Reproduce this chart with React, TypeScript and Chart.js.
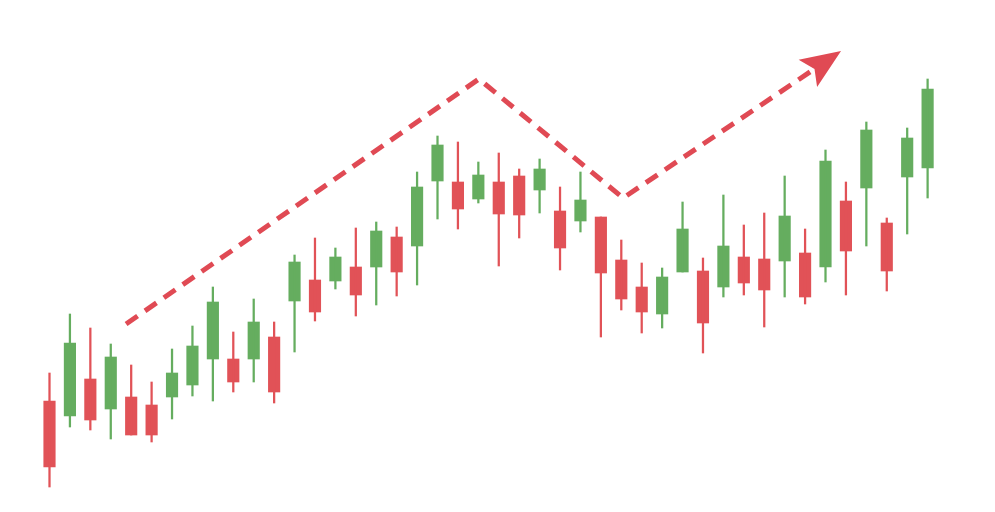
import React, { useEffect, useRef } from "react";
import { Chart, registerables } from "chart.js";

Chart.register(...registerables);

// OHLC values for 44 sessions (price units)
const opens = [22.2, 19.2, 26.6, 20.6, 23.0, 21.4, 23.0, 25.4, 30.6, 30.6, 30.6, 35.0, 42.2, 46.4, 46.2, 49.0, 49.0, 55.0, 53.2, 66.2, 66.0, 62.6, 66.0, 67.2, 64.4, 60.2, 58.2, 59.0, 50.4, 45.0, 39.6, 48.0, 48.2, 45.0, 51.0, 50.6, 50.2, 51.8, 49.0, 62.2, 64.8, 57.8, 67.0, 68.8];
const highs = [27.8, 39.6, 36.8, 33.6, 29.4, 26.0, 32.6, 37.2, 45.0, 36.0, 42.6, 38.0, 51.4, 54.8, 52.8, 56.8, 58.0, 57.0, 68.0, 75.2, 74.0, 70.0, 71.8, 68.6, 70.6, 65.0, 68.0, 59.0, 54.4, 49.8, 48.8, 62.0, 50.8, 63.4, 57.4, 59.8, 67.2, 56.6, 72.4, 66.0, 78.0, 58.8, 76.8, 86.6];
const lows = [5.0, 17.0, 16.4, 14.6, 15.4, 14.0, 18.6, 23.2, 22.2, 24.0, 26.0, 21.8, 32.0, 38.2, 44.6, 39.2, 41.4, 43.2, 45.4, 58.6, 56.6, 61.8, 49.2, 54.8, 59.8, 48.4, 56.0, 35.0, 40.4, 35.8, 36.8, 48.0, 31.8, 43.0, 43.4, 37.0, 43.0, 41.6, 46.0, 43.4, 53.2, 44.2, 55.6, 62.8];
const closes = [9.0, 33.8, 18.4, 31.0, 15.4, 15.4, 27.8, 33.2, 42.0, 26.0, 38.0, 24.0, 50.0, 40.0, 51.0, 43.4, 56.2, 48.0, 65.0, 73.4, 60.6, 67.4, 59.6, 59.4, 68.6, 52.8, 62.4, 47.8, 42.6, 40.0, 47.0, 56.6, 37.8, 53.2, 45.8, 44.4, 59.2, 43.0, 70.2, 52.2, 76.4, 48.2, 74.8, 84.6];

// Dashed trend path (session index, price); last point is the arrow tip
const trendX = [3.75, 21.03, 28.09, 38.76];
const trendY = [37.6, 86.6, 62.8, 92.2];

const UP = "#65ad5f";
const DOWN = "#e15257";
const TREND = "#e04a54";

const trendPlugin = {
  id: "trendArrow",
  afterDatasetsDraw(chart: any) {
    const { ctx, scales } = chart;
    const pts = trendX.map((x, i) => ({
      x: scales.x.getPixelForValue(x),
      y: scales.y.getPixelForValue(trendY[i]),
    }));
    const n = pts.length;
    const tip = pts[n - 1];
    const prev = pts[n - 2];
    const dx = tip.x - prev.x;
    const dy = tip.y - prev.y;
    const len = Math.hypot(dx, dy);
    const ux = dx / len;
    const uy = dy / len;
    const nx = -uy;
    const ny = ux;
    const headLen = 40;
    const halfW = 16.5;
    const notch = 32;
    const notchPt = { x: tip.x - ux * notch, y: tip.y - uy * notch };

    ctx.save();
    ctx.strokeStyle = TREND;
    ctx.lineWidth = 5;
    ctx.lineCap = "butt";
    ctx.lineJoin = "miter";
    ctx.setLineDash([14, 9]);
    ctx.beginPath();
    ctx.moveTo(pts[0].x, pts[0].y);
    for (let i = 1; i < n - 1; i++) ctx.lineTo(pts[i].x, pts[i].y);
    ctx.lineTo(notchPt.x + ux * 2, notchPt.y + uy * 2);
    ctx.stroke();
    ctx.setLineDash([]);

    ctx.fillStyle = TREND;
    ctx.beginPath();
    ctx.moveTo(tip.x, tip.y);
    ctx.lineTo(tip.x - ux * headLen + nx * halfW, tip.y - uy * headLen + ny * halfW);
    ctx.lineTo(notchPt.x, notchPt.y);
    ctx.lineTo(tip.x - ux * headLen - nx * halfW, tip.y - uy * headLen - ny * halfW);
    ctx.closePath();
    ctx.fill();
    ctx.restore();
  },
};

export default function App() {
  const ref = useRef<HTMLCanvasElement | null>(null);

  useEffect(() => {
    if (!ref.current) return;
    const colors = opens.map((o, i) => (closes[i] >= o ? UP : DOWN));
    const wickData = opens.map((_, i) => ({ x: i, y: [lows[i], highs[i]] }));
    const bodyData = opens.map((o, i) => ({ x: i, y: [Math.min(o, closes[i]), Math.max(o, closes[i])] }));

    const chart = new Chart(ref.current, {
      type: "bar",
      data: {
        datasets: [
          {
            label: "wick",
            data: wickData as any,
            backgroundColor: colors,
            barThickness: 1.6,
            grouped: false,
            borderWidth: 0,
          },
          {
            label: "body",
            data: bodyData as any,
            backgroundColor: colors,
            barThickness: 11.5,
            grouped: false,
            borderWidth: 0,
          },
        ],
      },
      options: {
        animation: false,
        responsive: false,
        maintainAspectRatio: false,
        layout: { padding: 0 },
        plugins: {
          legend: { display: false },
          tooltip: { enabled: false },
          title: { display: false },
        },
        scales: {
          x: { type: "linear", min: -2.424, max: 46.3, offset: false, display: false },
          y: { type: "linear", min: 0, max: 102.4, display: false },
        },
      },
      plugins: [trendPlugin],
    });
    return () => chart.destroy();
  }, []);

  return (
    <div style={{ position: "fixed", left: 0, top: 0, width: 995, height: 512, background: "#fff" }}>
      <canvas ref={ref} width={995} height={512} style={{ width: 995, height: 512, display: "block" }} />
    </div>
  );
}
